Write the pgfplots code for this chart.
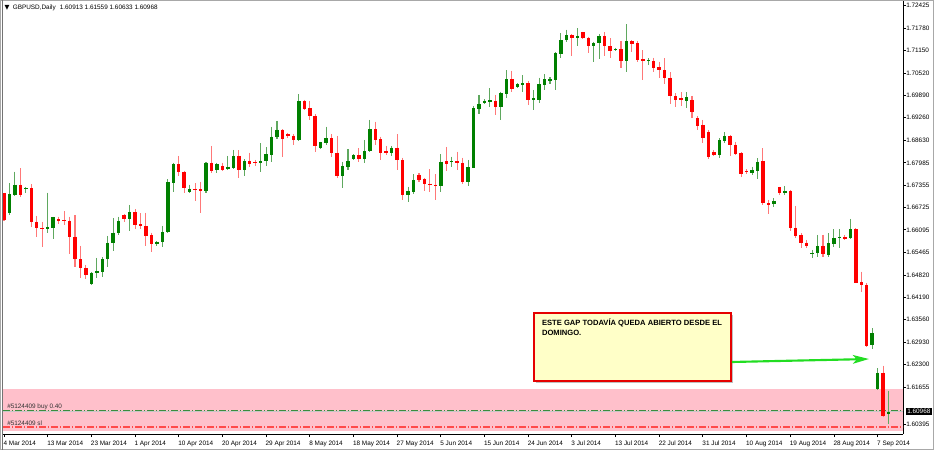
\documentclass[border=0pt]{standalone}
\usepackage{fontspec}
\setmainfont{Liberation Sans}
\newfontfamily\symfont{DejaVu Sans}
\usepackage{pgfplots}
\usepackage{pgfplotstable}
\pgfplotsset{compat=1.18}
\usetikzlibrary{arrows.meta}

\definecolor{upbody}{HTML}{008000}
\definecolor{upwick}{HTML}{5FA85F}
\definecolor{dnbody}{HTML}{FF0000}
\definecolor{dnwick}{HTML}{FF7878}
\definecolor{band}{HTML}{FFC0CB}
\definecolor{note}{HTML}{FFFFC8}
\definecolor{arrowgreen}{HTML}{22DD22}
\definecolor{frame}{HTML}{A8A8A8}
\definecolor{buyline}{HTML}{3C8C3C}
\definecolor{slline}{HTML}{FF4A4A}
\newcommand\tf{\fontsize{4.8}{6}\selectfont}

% daily bars: index, open, high, low, close
\pgfplotstableread{
i o h l c
1 1.66581 1.67408 1.66515 1.67107
2 1.67088 1.67737 1.67060 1.67370
4 1.67239 1.67295 1.67126 1.67267
8 1.66130 1.67145 1.66017 1.66177
9 1.66158 1.66468 1.65829 1.66449
16 1.64560 1.64908 1.64541 1.64889
17 1.64879 1.65302 1.64729 1.64926
18 1.64908 1.65321 1.64757 1.65274
19 1.65265 1.65923 1.65039 1.65735
20 1.65716 1.66430 1.65509 1.66017
21 1.66017 1.66468 1.65951 1.66355
23 1.66412 1.66797 1.66073 1.66600
28 1.65688 1.65772 1.65650 1.65754
29 1.65744 1.66205 1.65603 1.66036
30 1.66036 1.67521 1.66017 1.67446
31 1.67427 1.67991 1.67173 1.67953
34 1.67164 1.67370 1.67145 1.67258
37 1.67182 1.68010 1.67145 1.67991
39 1.67784 1.67991 1.67690 1.67944
41 1.67803 1.68179 1.67784 1.67878
42 1.67831 1.68348 1.67812 1.68179
44 1.67784 1.68085 1.67615 1.68038
47 1.67991 1.68536 1.67718 1.68038
48 1.68038 1.68423 1.67897 1.68226
49 1.68207 1.68997 1.68019 1.68724
50 1.68705 1.69166 1.68658 1.68912
54 1.68630 1.69927 1.68611 1.69730
58 1.68395 1.68583 1.68376 1.68564
59 1.68555 1.69006 1.68489 1.68677
62 1.67624 1.68019 1.67267 1.67897
63 1.67878 1.68367 1.67784 1.68038
64 1.68094 1.68226 1.68075 1.68198
66 1.68094 1.68630 1.67972 1.68320
67 1.68320 1.69194 1.68282 1.68940
71 1.68273 1.68461 1.68188 1.68414
74 1.67079 1.67314 1.66891 1.67192
75 1.67154 1.67662 1.67098 1.67502
80 1.67342 1.68226 1.67173 1.68019
82 1.68000 1.68160 1.67878 1.68038
85 1.67436 1.68066 1.67342 1.67859
86 1.67850 1.69589 1.67831 1.69523
87 1.69504 1.69899 1.69363 1.69645
88 1.69683 1.69777 1.69636 1.69739
89 1.69711 1.70087 1.69551 1.69749
91 1.69570 1.69993 1.69185 1.69946
92 1.69937 1.70604 1.69805 1.70350
94 1.70115 1.70228 1.70087 1.70200
95 1.70172 1.70463 1.69993 1.70228
97 1.69767 1.70040 1.69476 1.69805
98 1.69767 1.70388 1.69664 1.70200
99 1.70190 1.70482 1.70040 1.70341
100 1.70284 1.70397 1.70219 1.70341
101 1.70313 1.71102 1.70040 1.71074
102 1.71065 1.71638 1.70933 1.71450
103 1.71450 1.71741 1.71403 1.71591
105 1.71497 1.71779 1.71290 1.71572
108 1.71290 1.71403 1.70839 1.71356
109 1.71356 1.71610 1.70914 1.71563
112 1.71159 1.71234 1.71140 1.71196
114 1.70858 1.71901 1.70557 1.71422
118 1.70858 1.70933 1.70745 1.70886
125 1.69730 1.69983 1.69532 1.69842
131 1.68207 1.68677 1.68113 1.68630
132 1.68611 1.68846 1.68536 1.68743
137 1.67709 1.67878 1.67643 1.67784
138 1.67765 1.68113 1.67521 1.68019
141 1.66816 1.66985 1.66731 1.66910
143 1.67145 1.67333 1.67079 1.67192
148 1.65415 1.65528 1.65312 1.65453
149 1.65434 1.65951 1.65340 1.65641
151 1.65387 1.65998 1.65340 1.65716
152 1.65697 1.66111 1.65622 1.65857
153 1.65857 1.66111 1.65575 1.65904
155 1.65857 1.66402 1.65829 1.66111
159 1.62849 1.63319 1.62727 1.63178
160 1.61598 1.62191 1.61580 1.62069
162 1.60913 1.61559 1.60633 1.60968
}\upbars

\pgfplotstableread{
i o h l c
0 1.67126 1.67145 1.66355 1.66374
3 1.67370 1.67831 1.67013 1.67088
5 1.67276 1.67380 1.66167 1.66327
6 1.66327 1.66487 1.65904 1.66139
7 1.66158 1.66327 1.65622 1.66130
10 1.66393 1.66468 1.66261 1.66355
11 1.66374 1.66618 1.66233 1.66336
12 1.66355 1.66468 1.65415 1.65904
13 1.65904 1.66506 1.65039 1.65265
14 1.65265 1.65641 1.64748 1.65011
15 1.65011 1.65105 1.64701 1.64823
22 1.66524 1.66543 1.66327 1.66412
24 1.66600 1.66675 1.66130 1.66242
25 1.66252 1.66562 1.66130 1.66205
26 1.66205 1.66581 1.65641 1.65923
27 1.65942 1.66017 1.65481 1.65688
32 1.67953 1.68179 1.67615 1.67737
33 1.67737 1.67765 1.67126 1.67267
35 1.67248 1.67408 1.66919 1.67220
36 1.67239 1.67446 1.66562 1.67192
38 1.67991 1.68461 1.67690 1.67765
40 1.67897 1.67991 1.67765 1.67784
43 1.68179 1.68339 1.67568 1.67784
45 1.68038 1.68273 1.67859 1.67944
46 1.68010 1.68066 1.67906 1.67981
51 1.68912 1.68940 1.68160 1.68649
52 1.68799 1.68837 1.68677 1.68743
53 1.68752 1.68799 1.68489 1.68630
55 1.69730 1.69758 1.69467 1.69495
56 1.69523 1.69730 1.69194 1.69316
57 1.69307 1.69354 1.68282 1.68461
60 1.68677 1.68799 1.68160 1.68273
61 1.68273 1.68743 1.67568 1.67624
65 1.68207 1.68395 1.68000 1.68094
68 1.68940 1.69147 1.68489 1.68630
69 1.68649 1.68724 1.68066 1.68273
70 1.68320 1.68461 1.68207 1.68273
72 1.68414 1.68790 1.67784 1.68057
73 1.68066 1.68132 1.66938 1.67079
76 1.67643 1.67690 1.67455 1.67502
77 1.67530 1.67568 1.67192 1.67380
78 1.67399 1.67803 1.67154 1.67352
79 1.67370 1.67662 1.66938 1.67352
81 1.68038 1.68433 1.67756 1.67953
83 1.68038 1.68301 1.67784 1.67991
84 1.67991 1.68132 1.67380 1.67436
90 1.69739 1.69899 1.69335 1.69570
93 1.70350 1.70585 1.69993 1.70068
96 1.70228 1.70294 1.69617 1.69758
104 1.71591 1.71610 1.71008 1.71497
106 1.71666 1.71685 1.71478 1.71516
107 1.71516 1.71544 1.71074 1.71290
110 1.71563 1.71666 1.71008 1.71281
111 1.71281 1.71497 1.70952 1.71149
113 1.71187 1.71422 1.70670 1.70858
115 1.71422 1.71450 1.71121 1.71347
116 1.71356 1.71422 1.70839 1.70886
117 1.70905 1.71168 1.70322 1.70858
119 1.70867 1.70952 1.70538 1.70651
120 1.70679 1.70839 1.70388 1.70604
121 1.70604 1.70933 1.70200 1.70369
122 1.70388 1.70538 1.69636 1.69871
123 1.69871 1.69946 1.69570 1.69749
124 1.69814 1.69983 1.69588 1.69758
126 1.69758 1.69871 1.69250 1.69419
127 1.69250 1.69307 1.68912 1.69034
128 1.69053 1.69194 1.68536 1.68677
129 1.68865 1.68912 1.68085 1.68160
130 1.68282 1.68348 1.68179 1.68207
133 1.68743 1.68771 1.68179 1.68489
134 1.68489 1.68583 1.68207 1.68226
135 1.68254 1.68282 1.67596 1.67671
136 1.67765 1.67803 1.67671 1.67718
139 1.68038 1.68395 1.66797 1.66844
140 1.66844 1.66938 1.66543 1.66806
142 1.67295 1.67314 1.67079 1.67126
144 1.67192 1.67220 1.66073 1.66139
145 1.66158 1.66769 1.65857 1.65932
146 1.65951 1.65998 1.65575 1.65716
147 1.65735 1.65810 1.65575 1.65641
150 1.65641 1.65951 1.65340 1.65406
154 1.65885 1.65951 1.65810 1.65848
156 1.66111 1.66139 1.64588 1.64607
157 1.64616 1.64917 1.64353 1.64541
158 1.64541 1.64588 1.62783 1.62821
161 1.62069 1.62266 1.60828 1.60846
}\downbars

\pgfplotsset{
  candle/.style 2 args={draw=none, no markers, forget plot,
    error bars/y dir=minus, error bars/y explicit,
    error bars/error mark=none,
    error bars/error bar style={line width=#1, draw=#2, solid}},
}

\begin{document}
\begin{tikzpicture}
\useasboundingbox (0,0) rectangle (700.5pt,-337.5pt);
\fill[white] (0,0) rectangle (700.5pt,-337.5pt);

\begin{axis}[
  at={(2.25pt,-0.75pt)}, anchor=north west,
  scale only axis, width=675pt, height=324.75pt,
  xmin=-0.183, xmax=164.65, ymin=1.60338, ymax=1.72550,
  axis x line*=bottom, axis y line*=right,
  axis line style={-, black, line width=0.75pt},
  clip mode=individual,
  xtick={0,8,16,24,32,40,48,56,64,72,80,88,96,104,112,120,128,136,144,152,160},
  xticklabels={4 Mar 2014,13 Mar 2014,23 Mar 2014,1 Apr 2014,10 Apr 2014,
    20 Apr 2014,29 Apr 2014,8 May 2014,18 May 2014,27 May 2014,5 Jun 2014,
    15 Jun 2014,24 Jun 2014,3 Jul 2014,13 Jul 2014,22 Jul 2014,31 Jul 2014,
    10 Aug 2014,19 Aug 2014,28 Aug 2014,7 Sep 2014},
  ytick={1.60620,1.61655,1.62300,1.62930,1.63560,1.64190,1.64820,1.65465,
    1.66095,1.66725,1.67355,1.67985,1.68630,1.69260,1.69890,1.70520,
    1.71150,1.71780,1.72425},
  yticklabels={1.60395,1.61655,1.62300,1.62930,1.63560,1.64190,1.64820,1.65465,
    1.66095,1.66725,1.67355,1.67985,1.68630,1.69260,1.69890,1.70520,
    1.71150,1.71780,1.72425},
  tick align=outside, major tick length=2.25pt,
  tick style={black, line width=0.6pt},
  ticklabel style={font=\tf, text=black},
  xticklabel style={anchor=north west, inner sep=0pt, xshift=-0.5pt, yshift=-2.5pt},
  yticklabel style={anchor=west, inner sep=0pt},
]
% order zone and order lines
\fill[band] (axis cs:-0.183,1.61607) rectangle (axis cs:164.65,1.60423);
\addplot[forget plot, buyline, line width=0.75pt,
  dash pattern=on 5pt off 1.6pt on 0.8pt off 1.6pt]
  coordinates {(-0.183,1.60995) (164.65,1.60995)};
\addplot[forget plot, black!22, line width=0.75pt]
  coordinates {(-0.183,1.60968) (164.65,1.60968)};
\addplot[forget plot, slline, line width=1pt,
  dash pattern=on 5pt off 1.6pt on 0.8pt off 1.6pt]
  coordinates {(-0.183,1.60535) (164.65,1.60535)};
\node[anchor=south west, inner sep=0.6pt, font=\tf, text=black!80] at (axis cs:0.4,1.60995) {\#5124409 buy 0.40};
\node[anchor=south west, inner sep=0.6pt, font=\tf, text=black!80] at (axis cs:0.4,1.60535) {\#5124409 sl};

% candles: wicks first, bodies on top
\addplot[candle={0.8pt}{upwick}] table[x=i, y=h, y error minus expr=\thisrow{h}-\thisrow{l}] {\upbars};
\addplot[candle={0.8pt}{dnwick}] table[x=i, y=h, y error minus expr=\thisrow{h}-\thisrow{l}] {\downbars};
\addplot[candle={2.6pt}{upbody}] table[x=i, y=c, y error minus expr=\thisrow{c}-\thisrow{o}] {\upbars};
\addplot[candle={2.6pt}{dnbody}] table[x=i, y=o, y error minus expr=\thisrow{o}-\thisrow{c}] {\downbars};

% annotation
\fill[black!25] ([xshift=1.2pt,yshift=-1.2pt]axis cs:97.07,1.63750) rectangle ([xshift=1.2pt,yshift=-1.2pt]axis cs:133.15,1.61833);
\draw[fill=note, draw=red!90!black, line width=1.4pt] (axis cs:97.07,1.63750) rectangle (axis cs:133.15,1.61833);
\node[anchor=north west, align=left, inner sep=0pt,
  font=\fontsize{5.7}{7.5}\selectfont\bfseries] at (axis cs:98.5,1.63590)
  {ESTE GAP TODAVÍA QUEDA ABIERTO DESDE EL\\DOMINGO.};
\draw[arrowgreen, line width=1.6pt, -{Stealth[length=12pt, width=6.5pt, inset=3pt]}]
  (axis cs:133.3,1.62369) -- (axis cs:158.4,1.62453);

% current price tag
\node[anchor=west, fill=black, text=white, inner xsep=1pt, inner ysep=0.9pt, font=\tf, xshift=2pt]
  at (axis cs:164.65,1.60968) {1.60968};
\end{axis}

% window frame and header
\draw[frame, line width=0.75pt] (0.375pt,-0.375pt) rectangle (700.125pt,-337.125pt);
\draw[black!55, line width=0.75pt] (1.9pt,0) -- (1.9pt,-337.5pt);
\node[anchor=west, inner sep=0pt, font=\tf] at (3.2pt,-6pt)
  {{\symfont ▼}\hspace{2.5pt}GBPUSD,Daily\hspace{3pt}1.60913 1.61559 1.60633 1.60968};
\end{tikzpicture}
\end{document}
